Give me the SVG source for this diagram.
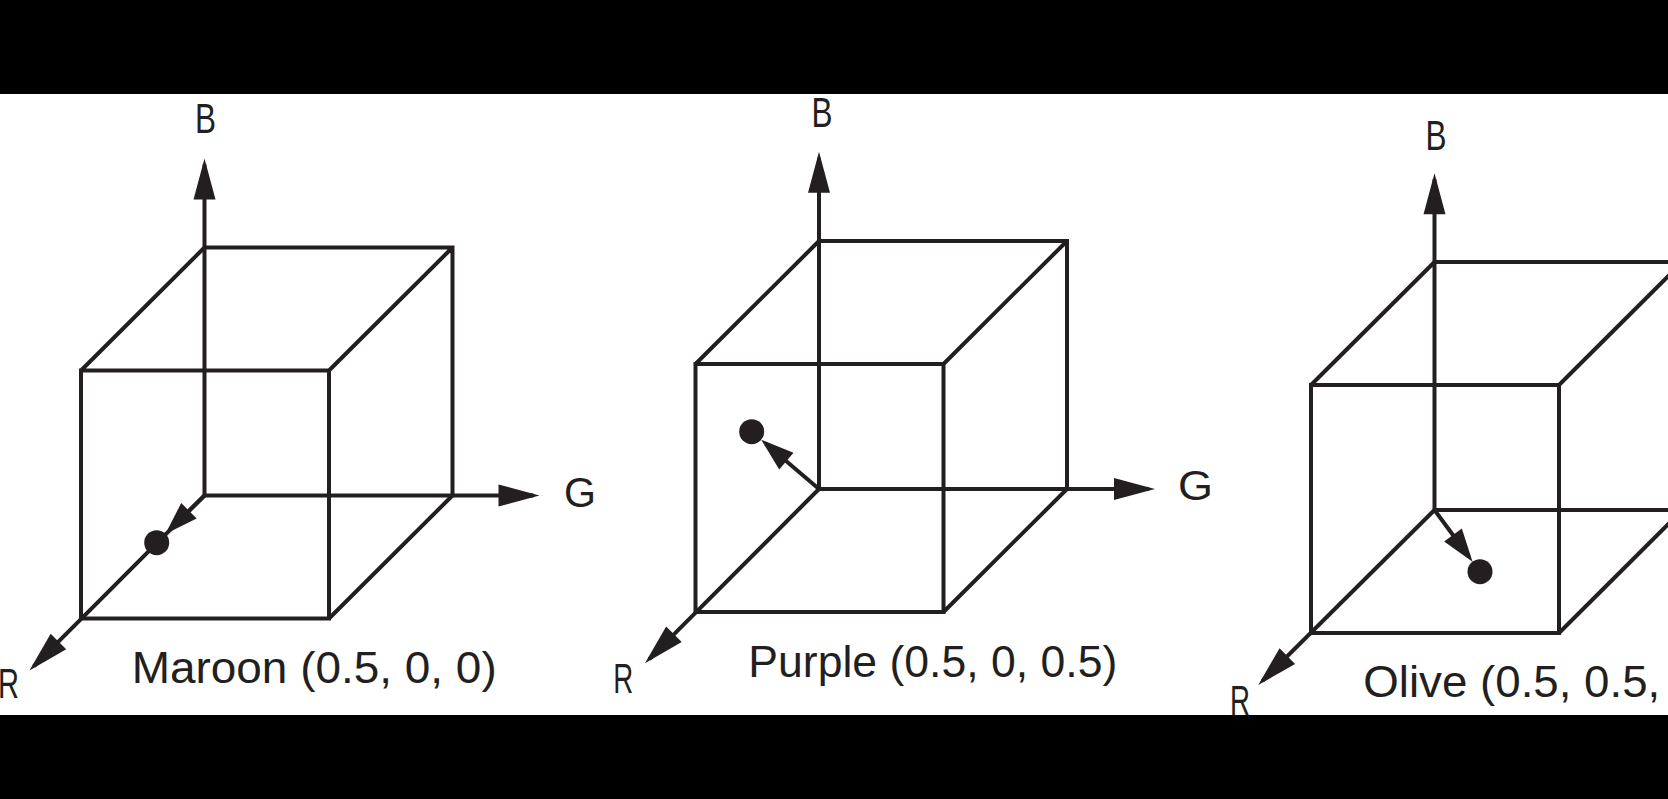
<svg xmlns="http://www.w3.org/2000/svg" xmlns:xlink="http://www.w3.org/1999/xlink" width="1668" height="799" viewBox="0 0 1668 799">
  <style>
    .edge { fill: none; stroke: #231f20; stroke-width: 4; stroke-linejoin: miter; stroke-linecap: round; }
    .axis { fill: none; stroke: #231f20; stroke-width: 4; stroke-linecap: butt; marker-end: url(#ah); }
    .vec { fill: none; stroke: #231f20; stroke-width: 4; stroke-linecap: butt; marker-end: url(#ahs); }
    .dot { fill: #231f20; }
    .lbl { font-family: "Liberation Sans", Arial, sans-serif; font-size: 43px; fill: #231f20; }
    .cap { font-family: "Liberation Sans", Arial, sans-serif; font-size: 44px; fill: #231f20; }
    .band { fill: #000000; }
  </style>
  <defs>
    <marker id="ah" markerUnits="userSpaceOnUse" orient="auto" overflow="visible" markerWidth="1" markerHeight="1" refX="0" refY="0">
      <path d="M6,0 L-35,-11 L-35,11 Z" fill="#231f20"/>
    </marker>
    <marker id="ahs" markerUnits="userSpaceOnUse" orient="auto" overflow="visible" markerWidth="1" markerHeight="1" refX="0" refY="0">
      <path d="M6,0 L-27,-11 L-27,11 Z" fill="#231f20"/>
    </marker>
    <g id="frame">
      <path class="edge" d="M0,-248 H248 V0 M-123.5,-125 H124.5 V123 H-123.5 Z M0,-248 L-123.5,-125 M248,-248 L124.5,-125 M248,0 L124.5,123"/>
    </g>
  </defs>

  <rect x="0" y="0" width="1668" height="799" fill="#ffffff"/>

  <g id="cube1">
    <use xlink:href="#frame" href="#frame" transform="translate(204.5,495.5)"/>
  </g>
  <g id="cube2">
    <use xlink:href="#frame" href="#frame" transform="translate(819,489)"/>
  </g>
  <g id="cube3">
    <use xlink:href="#frame" href="#frame" transform="translate(1434.5,510)"/>
  </g>

  <g id="connectors">
    <path class="axis" d="M204.5,495.5 V164.5"/>
    <path class="axis" d="M204.5,495.5 H533.5"/>
    <path class="axis" d="M204.5,495.5 L33.7,666.3"/>
    <path class="vec" d="M204.5,495.5 L169.7,529.7"/>

    <path class="axis" d="M819,489 V157.7"/>
    <path class="axis" d="M819,489 H1149"/>
    <path class="axis" d="M819,489 L649.2,659.1"/>
    <path class="vec" d="M819,489 L765.8,443.7"/>

    <path class="axis" d="M1434.5,510 V179.3"/>
    <path class="axis" d="M1434.5,510 H1790"/>
    <path class="axis" d="M1434.5,510 L1262.5,680.8"/>
    <path class="vec" d="M1434.5,510 L1469,556.8"/>
  </g>

  <g id="points">
    <circle class="dot" cx="156.7" cy="542.7" r="12.5"/>
    <circle class="dot" cx="751.7" cy="431.7" r="12.5"/>
    <circle class="dot" cx="1480" cy="571.7" r="12.5"/>
  </g>

  <g id="labels">
    <text class="lbl" x="205.5" y="133" text-anchor="middle" textLength="21" lengthAdjust="spacingAndGlyphs">B</text>
    <text class="lbl" x="564" y="506.5" textLength="32" lengthAdjust="spacingAndGlyphs">G</text>
    <text class="lbl" x="-2" y="698" textLength="21" lengthAdjust="spacingAndGlyphs">R</text>
    <text class="cap" x="131.7" y="683.3" textLength="365" lengthAdjust="spacingAndGlyphs">Maroon (0.5, 0, 0)</text>

    <text class="lbl" x="822" y="126.7" text-anchor="middle" textLength="21" lengthAdjust="spacingAndGlyphs">B</text>
    <text class="lbl" x="1178" y="499.5" textLength="35" lengthAdjust="spacingAndGlyphs">G</text>
    <text class="lbl" x="613.3" y="693" textLength="20" lengthAdjust="spacingAndGlyphs">R</text>
    <text class="cap" x="748.3" y="676.7" textLength="369" lengthAdjust="spacingAndGlyphs">Purple (0.5, 0, 0.5)</text>

    <text class="lbl" x="1436" y="150" text-anchor="middle" textLength="21" lengthAdjust="spacingAndGlyphs">B</text>
    <text class="lbl" x="1230" y="715" textLength="20" lengthAdjust="spacingAndGlyphs">R</text>
    <text class="cap" x="1363.3" y="696.7" textLength="297" lengthAdjust="spacingAndGlyphs">Olive (0.5, 0.5,</text>
  </g>

  <rect class="band" x="0" y="0" width="1668" height="94"/>
  <rect class="band" x="0" y="715" width="1668" height="84"/>
</svg>
